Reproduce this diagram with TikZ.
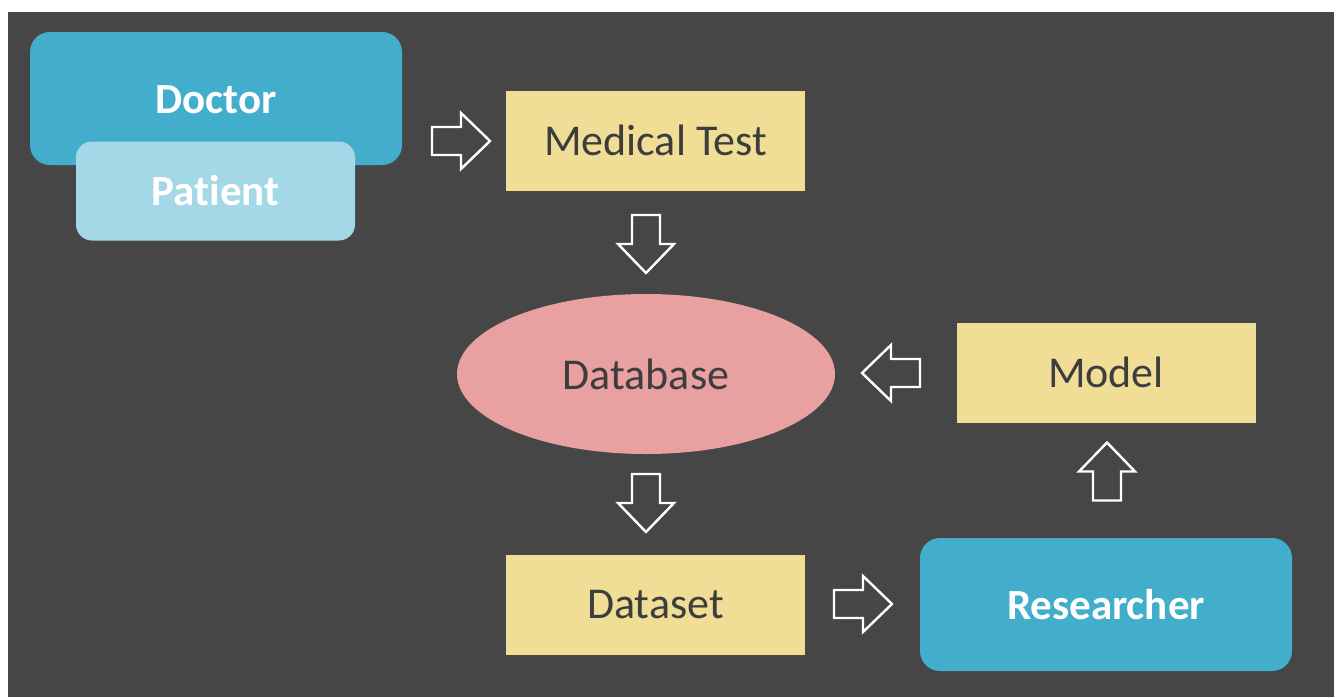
\documentclass[tikz,border=0pt]{standalone}
\usepackage{fontspec}
\setmainfont{Carlito}[Ligatures={NoCommon}]
\usetikzlibrary{shapes.geometric}
\definecolor{bgdark}{HTML}{464646}
\definecolor{docblue}{HTML}{43AECB}
\definecolor{patblue}{HTML}{A5D8E6}
\definecolor{boxyellow}{HTML}{F0DE96}
\definecolor{dbpink}{HTML}{E8A0A0}
\definecolor{txtdark}{HTML}{3D3D3D}
\tikzset{
  boldtext/.style={text=white, font=\fontsize{21.5pt}{25pt}\selectfont\bfseries},
  roundblue/.style={fill=docblue, draw=none, rounded corners=10pt, boldtext},
  roundlight/.style={fill=patblue, draw=none, rounded corners=8pt, boldtext},
  ybox/.style={fill=boxyellow, draw=none, text=txtdark,
    minimum width=149.5pt, minimum height=50pt,
    font=\fontsize{22pt}{26pt}\selectfont},
  dbell/.style={ellipse, fill=dbpink, draw=none, text=txtdark,
    minimum width=189pt, minimum height=80pt,
    font=\fontsize{22pt}{26pt}\selectfont},
  arrowline/.style={draw=white, line width=1.2pt, line join=miter},
  barrow/.pic={
    \draw[arrowline] (-29,-14) -- (0,-14) -- (0,-28) -- (29,0) -- (0,28) -- (0,14) -- (-29,14) -- cycle;
  }
}
\begin{document}
\begin{tikzpicture}[x=0.5pt,y=-0.5pt]
\useasboundingbox (0,0) rectangle (1338,697);
\fill[white] (0,0) rectangle (1338,697);
\fill[bgdark] (8,12) rectangle (1334,697);

% nodes
\node[roundblue, minimum width=186pt, minimum height=66.5pt] (doctor) at (216,98.5) {};
\node[boldtext] (doctortext) at (216,100) {Doctor};
\node[roundlight, minimum width=139.5pt, minimum height=49.5pt] (patient) at (215.5,191) {Patient};

\node[ybox] (medtest) at (655.5,140.5) {Medical Test};
\node[dbell] (database) at (646,374) {Database};
\node[ybox] (model) at (1106,372.5) {Model};
\node[ybox] (dataset) at (655.5,605) {Dataset};
\node[roundblue, minimum width=186pt, minimum height=66.5pt] (researcher) at (1106,604.5) {Researcher};

% block arrows
\pic at (461,141) {barrow};
\pic[rotate=-90] at (646,244) {barrow};
\pic[rotate=-90] at (646,503) {barrow};
\pic[rotate=180] at (891,373) {barrow};
\pic[rotate=90] at (1107,471.5) {barrow};
\pic at (863,604) {barrow};
\end{tikzpicture}
\end{document}
